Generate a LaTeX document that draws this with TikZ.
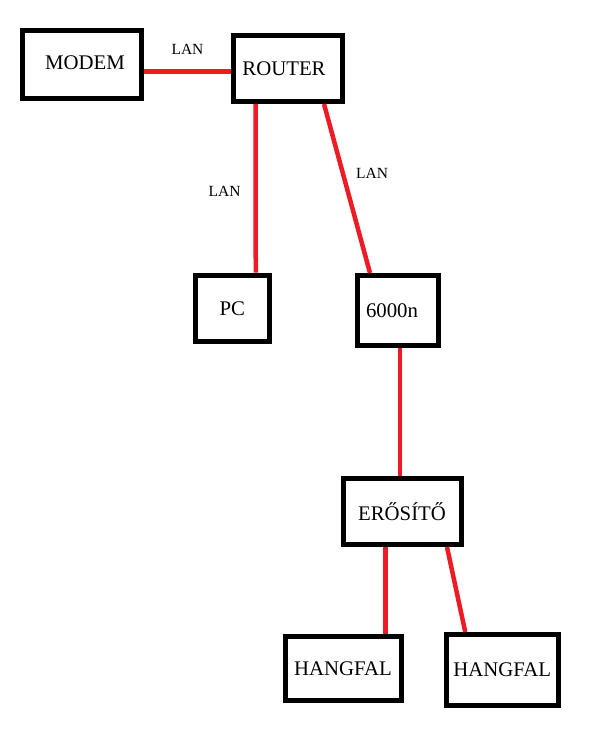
\documentclass[tikz,border=0pt]{standalone}
\usepackage{fontspec}
\setmainfont{Liberation Serif}
\usetikzlibrary{positioning}
\definecolor{paintred}{RGB}{237,28,36}

\begin{document}
\begin{tikzpicture}[x=1pt,y=-1pt,
		box/.style={draw,line width=5pt,inner sep=0pt,font=\fontsize{20.8}{24}\selectfont},
		link/.style={draw=paintred,line width=4.5pt},
		lan/.style={inner sep=0pt,text=black,font=\fontsize{15.5}{18}\selectfont}]
			\useasboundingbox (0,0) rectangle (598,730);
			\node[box,minimum width=119pt,minimum height=68pt] (modem) at (82,64.5) 	{\hspace*{6pt}\raisebox{3pt}{MODEM}};
			\node[box,minimum width=109pt,minimum height=66pt] (router) at (288,68.5) 	{ROUTER\hspace*{8pt}};
			\node[box,minimum width=74.5pt,minimum height=66.5pt] (pc) at (232.25,308.25) 	{PC};
			\node[box,minimum width=81pt,minimum height=70pt] (ap) at (398,310.5) 	{\hspace*{-12pt}\raisebox{-3pt}{6000n}};
			\node[box,minimum width=118pt,minimum height=66pt] (amp) at (402,511.5) 	{ER\H{O}S\'IT\H{O}};
			\node[box,minimum width=116pt,minimum height=63.5pt] (spk1) at (343,668.25) 	{\raisebox{-4pt}{HANGFAL}};
			\node[box,minimum width=111.5pt,minimum height=70.5pt] (spk2) at (502.25,669.75) 	{\raisebox{-5pt}{HANGFAL}};
			\path[link] 	([yshift=-7pt]modem.east) edge node[lan,above=15pt] {LAN}	([yshift=-3pt]router.west)
						([xshift=-32.3pt]router.south) edge node[lan,pos=0.52,left=13pt] {LAN}	([xshift=23.5pt]pc.north)
						([xshift=36pt]router.south) edge node[lan,pos=0.41,right=11pt] {LAN}	([xshift=-28pt]ap.north)
						([xshift=2pt]ap.south) edge	([xshift=-2pt]amp.north)
						([xshift=-16.7pt]amp.south) edge	([xshift=42.3pt]spk1.north)
						([xshift=45pt]amp.south) edge	([xshift=-37pt]spk2.north);
	\end{tikzpicture}
\end{document}
